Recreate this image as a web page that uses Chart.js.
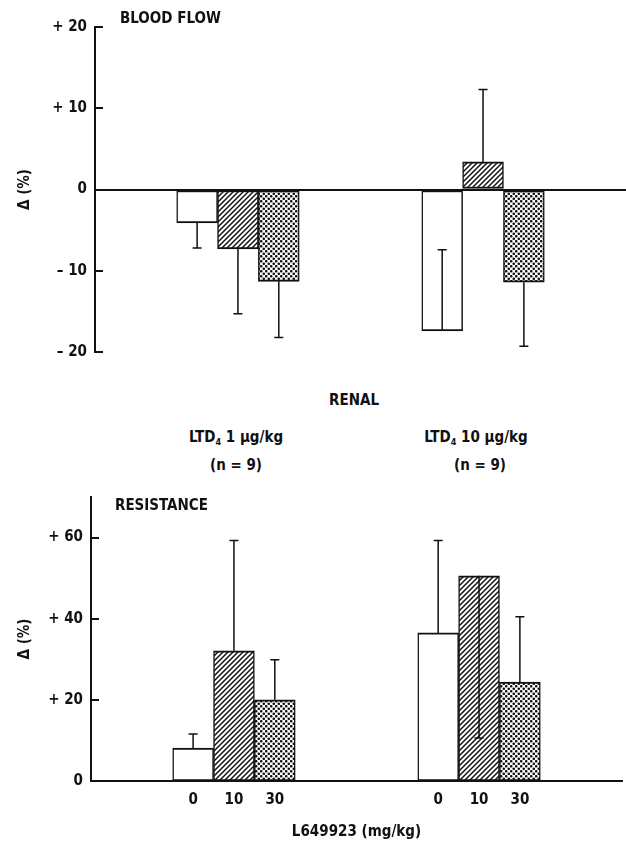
<!DOCTYPE html>
<html>
<head>
<meta charset="utf-8">
<title>Renal blood flow and resistance</title>
<script src="https://cdn.jsdelivr.net/npm/chart.js@4.4.1/dist/chart.umd.min.js"></script>
<style>
  html, body { margin: 0; padding: 0; background: #fff; }
  body {
    width: 626px; height: 845px; position: relative; overflow: hidden;
    font-family: 'DejaVu Sans Condensed', 'DejaVu Sans', sans-serif;
    font-weight: bold; color: #111;
  }
  canvas { position: absolute; left: 0; }
  #flow { top: 0; }
  #res { top: 480px; }
  .lbl {
    position: absolute; white-space: nowrap; font-size: 15px; line-height: 1;
    transform: translate(-50%, -50%);
  }
  .lbl.left { transform: translate(0, -50%); }
  .lbl sub { font-size: 9px; vertical-align: -3px; line-height: 0; }
</style>
</head>
<body>
<canvas id="flow" width="626" height="370"></canvas>
<canvas id="res" width="626" height="365"></canvas>

<div class="lbl left" style="left:120px; top:18px;">BLOOD FLOW</div>
<div class="lbl" style="left:354px; top:400px;">RENAL</div>
<div class="lbl" style="left:236px; top:437px;">LTD<sub>4</sub> 1 µg/kg</div>
<div class="lbl" style="left:236px; top:465px;">(n = 9)</div>
<div class="lbl" style="left:476px; top:437px;">LTD<sub>4</sub> 10 µg/kg</div>
<div class="lbl" style="left:480px; top:465px;">(n = 9)</div>
<div class="lbl left" style="left:115px; top:505px;">RESISTANCE</div>

<script>
// L649923 pretreatment doses (mg/kg), one bar per dose in each LTD4 group
const doses = ['0', '10', '30'];

// Renal blood flow, change from baseline (%), mean per dose
const flowLtd1  = [-4.1, -7.3, -11.3];
const flowLtd10 = [-17.4, 3.4, -11.4];
// Signed SE, drawn from the mean in the direction of its sign
const flowErrLtd1  = [-3.1, -8.0, -6.9];
const flowErrLtd10 = [10.0, 8.9, -7.9];

// Renal vascular resistance, change from baseline (%)
const resLtd1  = [8.1, 32.1, 20.0];
const resLtd10 = [36.5, 50.6, 24.4];
const resErrLtd1  = [3.5, 27.2, 9.9];
const resErrLtd10 = [22.8, -40.0, 16.1];

// Y-axis tick values
const flowTicks = [-20, -10, 0, 10, 20];
const resTicks  = [0, 20, 40, 60];

const INK = '#111';
const FONT = { family: "'DejaVu Sans Condensed', 'DejaVu Sans', sans-serif", size: 15, weight: 'bold' };

// Category slots: two empty, LTD4 1 µg/kg group, three empty, LTD4 10 µg/kg group, two empty
function slots(a, b, blank = null) {
  const gap = n => Array(n).fill(blank);
  return [...gap(2), ...a, ...gap(3), ...b, ...gap(2)];
}

// Fill patterns: open, diagonal hatch, stipple
function hatchPattern() {
  const s = 5, c = document.createElement('canvas');
  c.width = c.height = s;
  const g = c.getContext('2d');
  g.fillStyle = '#fff'; g.fillRect(0, 0, s, s);
  g.strokeStyle = INK; g.lineWidth = 1.45;
  g.beginPath();
  g.moveTo(-1, s + 1); g.lineTo(s + 1, -1);
  g.moveTo(-1, 1); g.lineTo(1, -1);
  g.moveTo(s - 1, s + 1); g.lineTo(s + 1, s - 1);
  g.stroke();
  return g.createPattern(c, 'repeat');
}
function dotPattern() {
  const s = 5, c = document.createElement('canvas');
  c.width = c.height = s;
  const g = c.getContext('2d');
  g.fillStyle = '#fff'; g.fillRect(0, 0, s, s);
  g.fillStyle = INK;
  [[1.25, 1.25], [3.75, 3.75]].forEach(([x, y]) => {
    g.beginPath(); g.arc(x, y, 1.3, 0, Math.PI * 2); g.fill();
  });
  return g.createPattern(c, 'repeat');
}
const fills = ['#fff', hatchPattern(), dotPattern()];

const signed = v => v > 0 ? '+ ' + v : v < 0 ? '\u2013 ' + (-v) : '0';

// Vertical SE bars with a short cap
const errorBars = {
  id: 'errorBars',
  afterDatasetsDraw(chart, args, opts) {
    const { ctx } = chart;
    const y = chart.scales.y;
    const data = chart.data.datasets[0].data;
    ctx.save();
    ctx.strokeStyle = INK;
    ctx.lineWidth = 1.5;
    chart.getDatasetMeta(0).data.forEach((bar, i) => {
      const v = data[i], e = opts.values[i];
      if (v == null || e == null) return;
      const y0 = y.getPixelForValue(v), y1 = y.getPixelForValue(v + e);
      ctx.beginPath();
      ctx.moveTo(bar.x, y0); ctx.lineTo(bar.x, y1);
      ctx.moveTo(bar.x - 4.5, y1); ctx.lineTo(bar.x + 4.5, y1);
      ctx.stroke();
    });
    ctx.restore();
  }
};

// Short tick marks pointing into the plot from the y axis
const innerTicks = {
  id: 'innerTicks',
  afterDraw(chart) {
    const { ctx, chartArea } = chart;
    const y = chart.scales.y;
    ctx.save();
    ctx.strokeStyle = INK;
    ctx.lineWidth = 2;
    y.ticks.forEach(t => {
      const py = Math.round(y.getPixelForValue(t.value));
      ctx.beginPath();
      ctx.moveTo(chartArea.left, py); ctx.lineTo(chartArea.left + 8, py);
      ctx.stroke();
    });
    ctx.restore();
  }
};

function barDataset(values) {
  return {
    data: values,
    backgroundColor: slots(fills, fills),
    borderColor: INK,
    borderWidth: { top: 2, bottom: 2, left: 1.5, right: 1.5 },
    borderSkipped: false,
    barPercentage: 1,
    categoryPercentage: 1
  };
}

function yAxis(min, max, ticks, width, extra) {
  return Object.assign({
    min, max,
    afterBuildTicks: s => { s.ticks = ticks.map(v => ({ value: v })); },
    afterFit: s => { s.width = width; },
    border: { display: true, color: INK, width: 2 },
    ticks: { color: INK, font: FONT, padding: 8, callback: v => signed(v) },
    title: { display: true, text: '\u0394 (%)', color: INK, font: FONT, padding: { top: 16, bottom: 0 } }
  }, extra);
}

Chart.defaults.animation = false;
Chart.defaults.responsive = false;
Chart.defaults.plugins.legend.display = false;
Chart.defaults.plugins.tooltip.enabled = false;

// Blood flow panel
new Chart(document.getElementById('flow'), {
  type: 'bar',
  data: {
    labels: slots(doses, doses, ''),
    datasets: [barDataset(slots(flowLtd1, flowLtd10))]
  },
  options: {
    layout: { padding: { top: 27, right: 0, bottom: 18, left: 0 } },
    scales: {
      x: { display: false },
      y: yAxis(-20, 20, flowTicks, 95, {
        grid: {
          drawTicks: false,
          color: c => (c.tick && c.tick.value === 0) ? INK : 'rgba(0,0,0,0)',
          lineWidth: 2
        }
      })
    },
    plugins: { errorBars: { values: slots(flowErrLtd1, flowErrLtd10) } }
  },
  plugins: [errorBars, innerTicks]
});

// Resistance panel
new Chart(document.getElementById('res'), {
  type: 'bar',
  data: {
    labels: slots(doses, doses, ''),
    datasets: [barDataset(slots(resLtd1, resLtd10))]
  },
  options: {
    layout: { padding: { top: 17, right: 4, bottom: 0, left: 0 } },
    scales: {
      x: {
        afterFit: s => { s.height = 64; },
        grid: { display: false, drawTicks: false },
        border: { display: true, color: INK, width: 2 },
        ticks: { color: INK, font: FONT, padding: 10, autoSkip: false, maxRotation: 0 },
        title: { display: true, text: 'L649923 (mg/kg)', color: INK, font: FONT, padding: { top: 0, bottom: 4 } }
      },
      y: yAxis(0, 70, resTicks, 91, { grid: { display: false, drawTicks: false } })
    },
    plugins: { errorBars: { values: slots(resErrLtd1, resErrLtd10) } }
  },
  plugins: [errorBars, innerTicks]
});
</script>
</body>
</html>
